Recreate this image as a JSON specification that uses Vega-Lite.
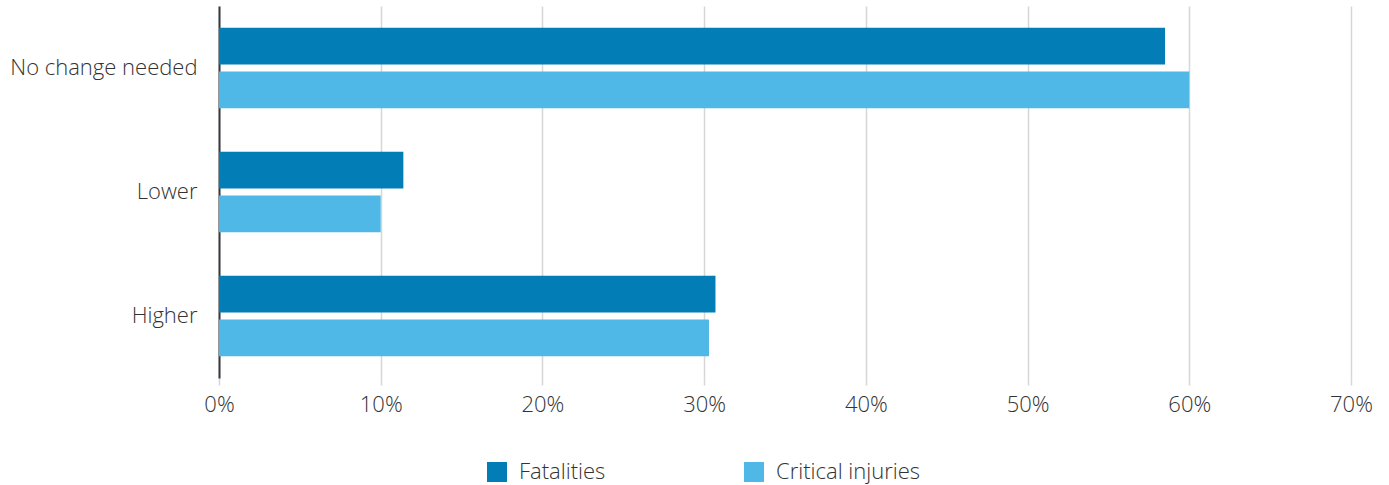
{
  "$schema": "https://vega.github.io/schema/vega-lite/v6.json",
  "width": 1132,
  "height": 372,
  "autosize": {"type": "none"},
  "padding": {"left": 219, "top": 6, "right": 38, "bottom": 107},
  "config": {
    "view": {"stroke": null},
    "font": "Open Sans",
    "axis": {"labelFont": "Open Sans", "labelFontWeight": 300, "labelColor": "#333333", "labelFontSize": 22, "labelLimit": 400}
  },
  "data": {
    "values": [
      {"answer": "No change needed", "group": "Fatalities", "value": 0.585},
      {"answer": "No change needed", "group": "Critical injuries", "value": 0.6},
      {"answer": "Lower", "group": "Fatalities", "value": 0.114},
      {"answer": "Lower", "group": "Critical injuries", "value": 0.1},
      {"answer": "Higher", "group": "Fatalities", "value": 0.307},
      {"answer": "Higher", "group": "Critical injuries", "value": 0.303}
    ]
  },
  "mark": {"type": "bar"},
  "encoding": {
    "y": {
      "field": "answer",
      "type": "nominal",
      "sort": ["No change needed", "Lower", "Higher"],
      "scale": {"paddingInner": 0.35, "paddingOuter": 0.175},
      "axis": {"title": null, "ticks": false, "labelPadding": 22, "labelLimit": 400, "domainColor": "#343840", "domainWidth": 2, "grid": false}
    },
    "yOffset": {
      "field": "group",
      "type": "nominal",
      "sort": ["Fatalities", "Critical injuries"],
      "scale": {"paddingInner": 0.16, "paddingOuter": 0}
    },
    "x": {
      "field": "value",
      "type": "quantitative",
      "scale": {"domain": [0, 0.7], "nice": false},
      "axis": {"title": null, "format": ".0%", "values": [0, 0.1, 0.2, 0.3, 0.4, 0.5, 0.6, 0.7], "domain": false, "labelFlush": false, "gridColor": "#d6d6d6", "gridWidth": 1.5, "tickColor": "#d6d6d6", "tickWidth": 1.5, "tickSize": 7, "labelPadding": 9}
    },
    "color": {
      "field": "group",
      "type": "nominal",
      "sort": ["Fatalities", "Critical injuries"],
      "scale": {"domain": ["Fatalities", "Critical injuries"], "range": ["#027db6", "#50b8e7"]},
      "legend": {
        "title": null,
        "orient": "none",
        "direction": "horizontal",
        "legendX": 267,
        "legendY": 455,
        "padding": 0,
        "symbolType": "square",
        "symbolSize": 400,
        "symbolStrokeWidth": 0,
        "symbolOpacity": 1,
        "labelFont": "Open Sans",
        "labelFontWeight": 300,
        "labelFontSize": 22,
        "labelColor": "#333333",
        "labelOffset": 11,
        "columnPadding": 137,
        "labelLimit": 300
      }
    }
  }
}
